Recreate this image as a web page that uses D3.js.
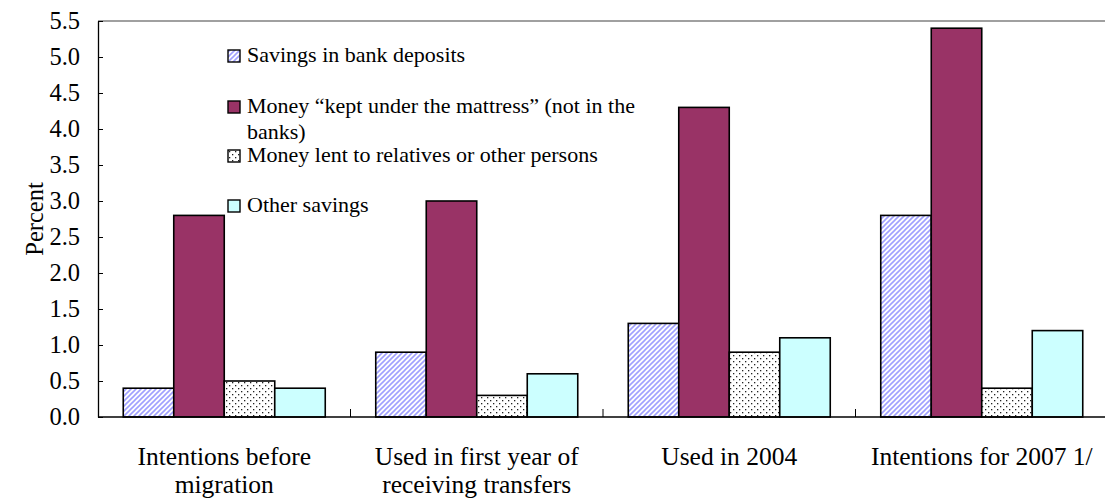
<!DOCTYPE html>
<html><head><meta charset="utf-8">
<script src="https://cdn.jsdelivr.net/npm/d3@7"></script>
<style>body{margin:0;background:#fff}svg{display:block}svg text{font-family:"Liberation Serif","Times New Roman",serif;fill:#000}</style>
</head><body><div id="c"></div>
<script>
const categories = [["Intentions before","migration"],["Used in first year of","receiving transfers"],["Used in 2004"],["Intentions for 2007 1/"]];
const seriesNames = [["Savings in bank deposits"],["Money \u201ckept under the mattress\u201d (not in the","banks)"],["Money lent to relatives or other persons"],["Other savings"]];
const bankDeposits = [0.4, 0.9, 1.3, 2.8];
const mattress = [2.8, 3.0, 4.3, 5.4];
const lent = [0.5, 0.3, 0.9, 0.4];
const other = [0.4, 0.6, 1.1, 1.2];
const yTicks = [0,0.5,1,1.5,2,2.5,3,3.5,4,4.5,5,5.5];

const series = [bankDeposits, mattress, lent, other];
const fills = ["url(#hatch)", "#993366", "url(#dots)", "#ccffff"];

const W = 1105, H = 500;
const m = {left: 98, top: 21, right: -3, bottom: 83};
const svg = d3.select("#c").append("svg").attr("width", W).attr("height", H);
const defs = svg.append("defs");
const hp = defs.append("pattern").attr("id","hatch").attr("patternUnits","userSpaceOnUse").attr("width",5).attr("height",5);
hp.append("rect").attr("width",5).attr("height",5).attr("fill","#fff");
hp.append("path").attr("d","M-1,1 L1,-1 M0,5 L5,0 M4,6 L6,4").attr("stroke","#a0a0ff").attr("stroke-width",1.6);
const dp = defs.append("pattern").attr("id","dots").attr("patternUnits","userSpaceOnUse").attr("width",6).attr("height",6);
dp.append("rect").attr("width",6).attr("height",6).attr("fill","#fff");
dp.append("rect").attr("x",1).attr("y",1).attr("width",1.3).attr("height",1.3).attr("fill","#222");
dp.append("rect").attr("x",4).attr("y",4).attr("width",1.3).attr("height",1.3).attr("fill","#222");

const x0 = d3.scaleBand().domain(d3.range(categories.length)).range([m.left, W - m.right]);
const x1 = d3.scaleBand().domain(d3.range(series.length)).range([0, x0.bandwidth()]).paddingOuter(0.5).paddingInner(0);
const y = d3.scaleLinear().domain([0, 5.5]).range([H - m.bottom, m.top]);

// top frame
svg.append("line").attr("x1", m.left).attr("x2", W).attr("y1", y(5.5)).attr("y2", y(5.5)).attr("stroke","#808080").attr("stroke-width",1.3);

// bars
series.forEach((vals, si) => {
  svg.append("g").selectAll("rect").data(vals).join("rect")
    .attr("x", (d,i) => x0(i) + x1(si))
    .attr("y", d => y(d))
    .attr("width", x1.bandwidth())
    .attr("height", d => y(0) - y(d))
    .attr("fill", fills[si])
    .attr("stroke", "#000").attr("stroke-width", 1.6);
});

// y axis
const ya = svg.append("g").attr("transform", `translate(${m.left},0)`)
  .call(d3.axisLeft(y).tickValues(yTicks).tickFormat(d3.format(".1f")).tickSizeInner(-5).tickSizeOuter(0).tickPadding(18));
ya.select(".domain").attr("stroke","#000").attr("stroke-width",1.3);
ya.selectAll(".tick line").attr("stroke","#000");
ya.selectAll("text").attr("font-size", 24.5);

// x axis
const xa = svg.append("g").attr("transform", `translate(0,${y(0)})`);
xa.append("line").attr("x1", m.left).attr("x2", W).attr("stroke","#000").attr("stroke-width",1.5);
xa.selectAll(".tk").data(d3.range(1, categories.length)).join("line")
  .attr("x1", i => x0(i)).attr("x2", i => x0(i)).attr("y1", 0).attr("y2", -8).attr("stroke","#000");
xa.selectAll(".cl").data(categories).join("text")
  .attr("x", (d,i) => x0(i) + x0.bandwidth()/2)
  .attr("text-anchor","middle").attr("font-size", 25.5)
  .selectAll("tspan").data(d => d).join("tspan")
  .attr("x", function(){ return this.parentNode.getAttribute("x"); })
  .attr("y", (d,j) => 48 + j*28)
  .text(d => d);

// y title
svg.append("text").attr("transform", `translate(43,${(y(0)+y(5.5))/2}) rotate(-90)`)
  .attr("text-anchor","middle").attr("font-size", 24.5).text("Percent");

// legend
const legY = [62, 113, 162, 212];
const lg = svg.append("g");
seriesNames.forEach((lines, si) => {
  lg.append("rect").attr("x", 228).attr("y", legY[si] - 12).attr("width", 12).attr("height", 12)
    .attr("fill", fills[si]).attr("stroke","#000").attr("stroke-width",1.4);
  const t = lg.append("text").attr("x", 247).attr("y", legY[si]).attr("font-size", 22);
  lines.forEach((l, j) => t.append("tspan").attr("x", 247).attr("y", legY[si] + j*26).text(l));
});
</script></body></html>
